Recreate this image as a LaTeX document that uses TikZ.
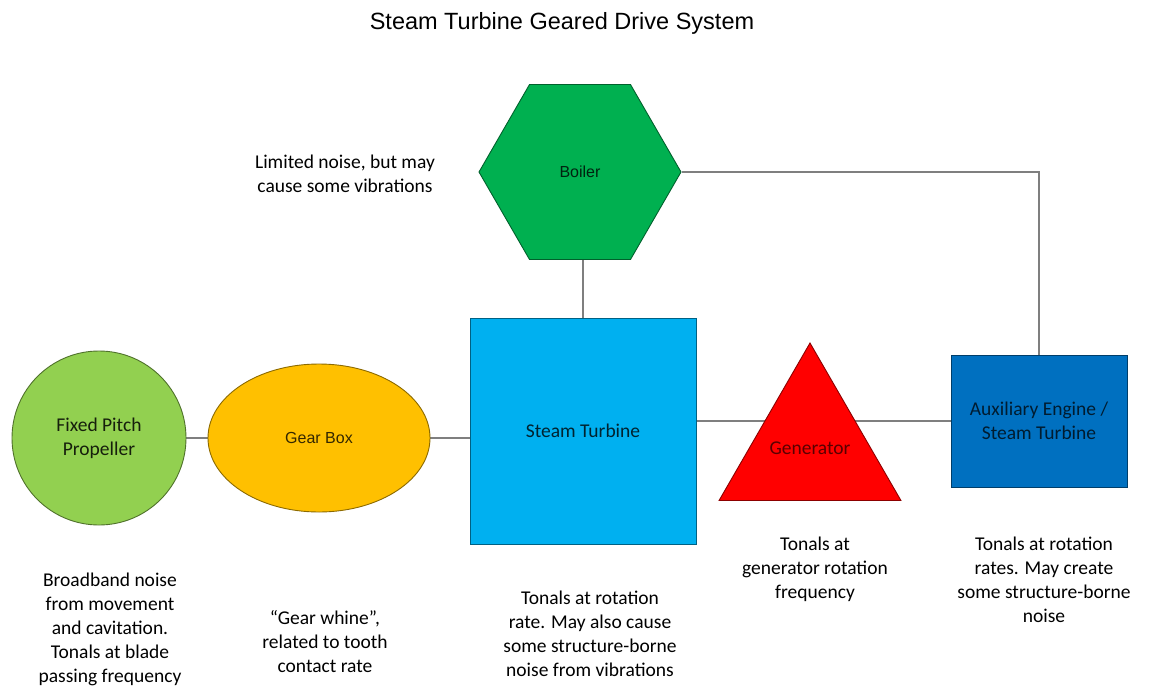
\documentclass[tikz,border=0pt]{standalone}
\usepackage{fontspec}
\setmainfont{Carlito}
\newfontfamily\arialf{Liberation Sans}
\usetikzlibrary{shapes.geometric,backgrounds}
\definecolor{propgreen}{HTML}{92D050}
\definecolor{gearorange}{HTML}{FFC000}
\definecolor{boilgreen}{HTML}{00B050}
\definecolor{turbblue}{HTML}{00B0F0}
\definecolor{genred}{HTML}{FF0000}
\definecolor{auxblue}{HTML}{0070C0}
\definecolor{conngray}{HTML}{7F7F7F}
\tikzset{
  blk/.style={draw=#1!55!black, fill=#1, line width=0.9pt, inner sep=0pt, align=center,
    font=\fontsize{19.5}{24}\selectfont},
  desc/.style={align=center, inner sep=0pt, font=\fontsize{19.5}{24}\selectfont},
  conn/.style={draw=conngray, line width=1.4pt}
}
\begin{document}
\begin{tikzpicture}[x=1pt,y=-1pt]
\useasboundingbox (0,0) rectangle (1149,686);

\node[font=\arialf\fontsize{23.5}{28}\selectfont] (title) at (562,23) {Steam Turbine Geared Drive System};

\node[blk=propgreen, circle, minimum size=174pt, text=black!85!propgreen] (prop) at (99,438) {Fixed Pitch\\Propeller};
\node[blk=gearorange, ellipse, minimum width=222pt, minimum height=148pt, text=black!80!gearorange,
  font=\arialf\fontsize{16}{19}\selectfont] (gear) at (319,438) {Gear Box};
\node[blk=boilgreen, regular polygon, regular polygon sides=6, minimum size=202pt, text=black!80!boilgreen,
  font=\arialf\fontsize{16}{19}\selectfont] (boiler) at (580,172) {Boiler};
\node[blk=turbblue, rectangle, minimum width=226pt, minimum height=226pt, text=black!80!turbblue] (turb) at (583,431) {Steam Turbine};
\node[blk=auxblue, rectangle, minimum width=176pt, minimum height=132pt, text=black!75!auxblue] (aux) at (1039,421) {Auxiliary Engine /\\Steam Turbine};
\node[blk=genred, regular polygon, regular polygon sides=3, minimum size=210pt,
  label={[text=black!65!genred, font=\fontsize{19.5}{24}\selectfont, inner sep=0pt]center:Generator}] (gen) at (810,448) {};

\begin{scope}[on background layer]
\fill[white] (0,0) rectangle (1149,686);
\draw[conn] (prop.east) -- (gear.west);
\draw[conn] (gear.east) -- (gear.east -| turb.west);
\draw[conn] (turb.north) -- (turb.north |- boiler.south);
\draw[conn] (boiler.east) -| (aux.north);
\draw[conn] (aux.west -| turb.east) -- (aux.west);
\end{scope}

\node[desc] (dboil) at (345,174) {Limited noise, but may\\cause some vibrations};
\node[desc] (dprop) at (110,629) {Broadband noise\\from movement\\and cavitation.\\Tonals at blade\\passing frequency};
\node[desc] (dgear) at (325,642) {“Gear whine”,\\related to tooth\\contact rate};
\node[desc] (dturb) at (590,634) {Tonals at rotation\\rate. May also cause\\some structure-borne\\noise from vibrations};
\node[desc] (dgen) at (815,569) {Tonals at\\generator rotation\\frequency};
\node[desc] (daux) at (1044,580) {Tonals at rotation\\rates. May create\\some structure-borne\\noise};
\end{tikzpicture}
\end{document}
